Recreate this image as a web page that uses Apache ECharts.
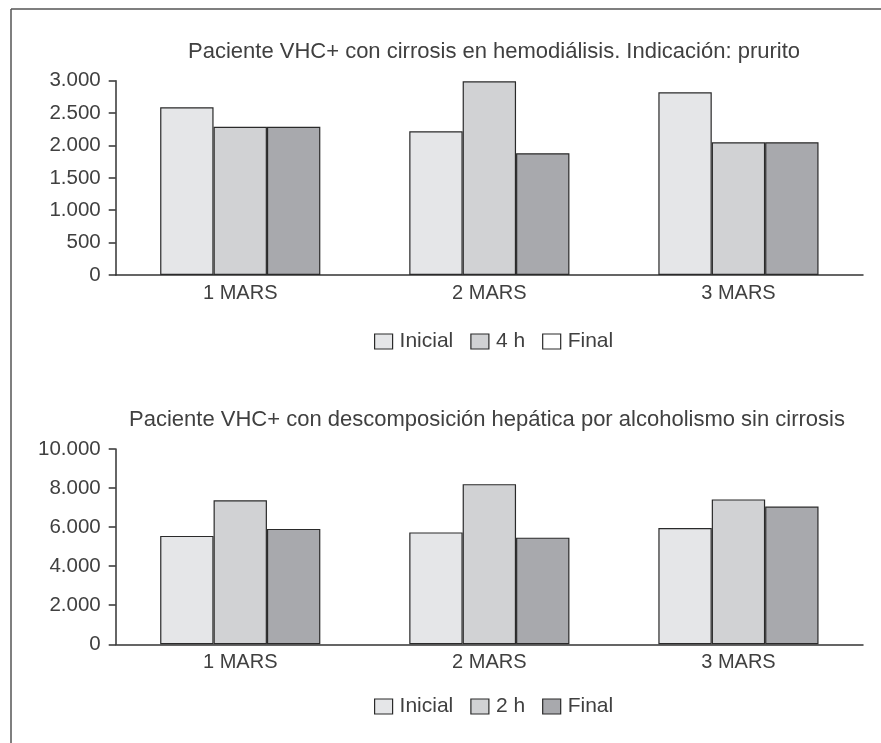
<!DOCTYPE html>
<html>
<head>
<meta charset="utf-8">
<script src="https://cdn.jsdelivr.net/npm/echarts@6/dist/echarts.min.js"></script>
<style>
html,body{margin:0;padding:0;background:#fff;}
#c{width:881px;height:743px;}
</style>
</head>
<body>
<div id="c"></div>
<script>
const categories = ['1 MARS', '2 MARS', '3 MARS'];
const title1 = 'Paciente VHC+ con cirrosis en hemodiálisis. Indicación: prurito';
const title2 = 'Paciente VHC+ con descomposición hepática por alcoholismo sin cirrosis';
const top_inicial = [2590, 2220, 2820];
const top_4h = [2290, 2990, 2050];
const top_final = [2290, 1880, 2050];
const bot_inicial = [5550, 5730, 5950];
const bot_2h = [7370, 8200, 7420];
const bot_final = [5910, 5460, 7050];

const C_INI = '#e5e6e8', C_MID = '#d1d2d4', C_FIN = '#a8a9ad';
const FONT = 'Liberation Sans';
const TXT = '#404040';
const fmt = v => String(v).replace(/\B(?=(\d{3})+(?!\d))/g, '.');

const chart = echarts.init(document.getElementById('c'), null, {renderer: 'canvas'});

function yAxis(gi, max, interval) {
  return {
    type: 'value', gridIndex: gi, min: 0, max: max, interval: interval,
    axisLine: {show: true, lineStyle: {color: '#333', width: 1.5}},
    axisTick: {show: true, length: 7, lineStyle: {color: '#333', width: 1.5}},
    splitLine: {show: false},
    axisLabel: {formatter: fmt, color: TXT, fontFamily: FONT, fontSize: 20.5, margin: 15}
  };
}
function xAxis(gi) {
  return {
    type: 'category', gridIndex: gi, data: categories,
    axisLine: {show: true, lineStyle: {color: '#333', width: 1.5}},
    axisTick: {show: false},
    axisLabel: {color: TXT, fontFamily: FONT, fontSize: 20, margin: 8}
  };
}
function bar(name, data, color, idx) {
  return {
    type: 'bar', name: name, data: data, xAxisIndex: idx, yAxisIndex: idx,
    barGap: '0%', barCategoryGap: '35.7%',
    itemStyle: {color: color, borderColor: '#2a2a2a', borderWidth: 1.2},
    emphasis: {disabled: true}, silent: true, animation: false
  };
}
const legendCommon = {
  orient: 'horizontal', itemWidth: 18, itemHeight: 15, itemGap: 17,
  selectedMode: false, icon: 'rect', padding: 0,
  textStyle: {color: TXT, fontFamily: FONT, fontSize: 21, padding: [0,0,0,2]},
  itemStyle: {borderColor: '#2a2a2a', borderWidth: 1.2}
};

chart.setOption({
  animation: false,
  backgroundColor: '#fff',
  title: [
    {text: title1, left: 494, textAlign: 'center', top: 41, padding: 0,
     textStyle: {color: TXT, fontFamily: FONT, fontSize: 22, fontWeight: 'normal'}},
    {text: title2, left: 487, textAlign: 'center', top: 409, padding: 0,
     textStyle: {color: TXT, fontFamily: FONT, fontSize: 22, fontWeight: 'normal'}}
  ],
  grid: [
    {left: 115.7, right: 18, top: 80.7, height: 194.3},
    {left: 115.7, right: 18, top: 449, height: 195.3}
  ],
  xAxis: [xAxis(0), xAxis(1)],
  yAxis: [yAxis(0, 3000, 500), yAxis(1, 10000, 2000)],
  legend: [
    Object.assign({}, legendCommon, {left: 374, top: 331,
      data: [{name: 'Inicial', itemStyle: {color: C_INI}}, {name: '4 h', itemStyle: {color: C_MID}}, {name: 'Final', itemStyle: {color: '#ffffff'}}]}),
    Object.assign({}, legendCommon, {left: 374, top: 696,
      data: [{name: 'Inicial', itemStyle: {color: C_INI}}, {name: '2 h', itemStyle: {color: C_MID}}, {name: 'Final', itemStyle: {color: C_FIN}}]})
  ],
  series: [
    bar('Inicial', top_inicial, C_INI, 0),
    bar('4 h', top_4h, C_MID, 0),
    bar('Final', top_final, C_FIN, 0),
    bar('Inicial', bot_inicial, C_INI, 1),
    bar('2 h', bot_2h, C_MID, 1),
    bar('Final', bot_final, C_FIN, 1)
  ],
  graphic: [
    {type: 'line', shape: {x1: 11, y1: 9, x2: 881, y2: 9}, style: {stroke: '#555', lineWidth: 1.5}, silent: true},
    {type: 'line', shape: {x1: 11, y1: 9, x2: 11, y2: 743}, style: {stroke: '#555', lineWidth: 1.5}, silent: true}
  ]
});
</script>
</body>
</html>
